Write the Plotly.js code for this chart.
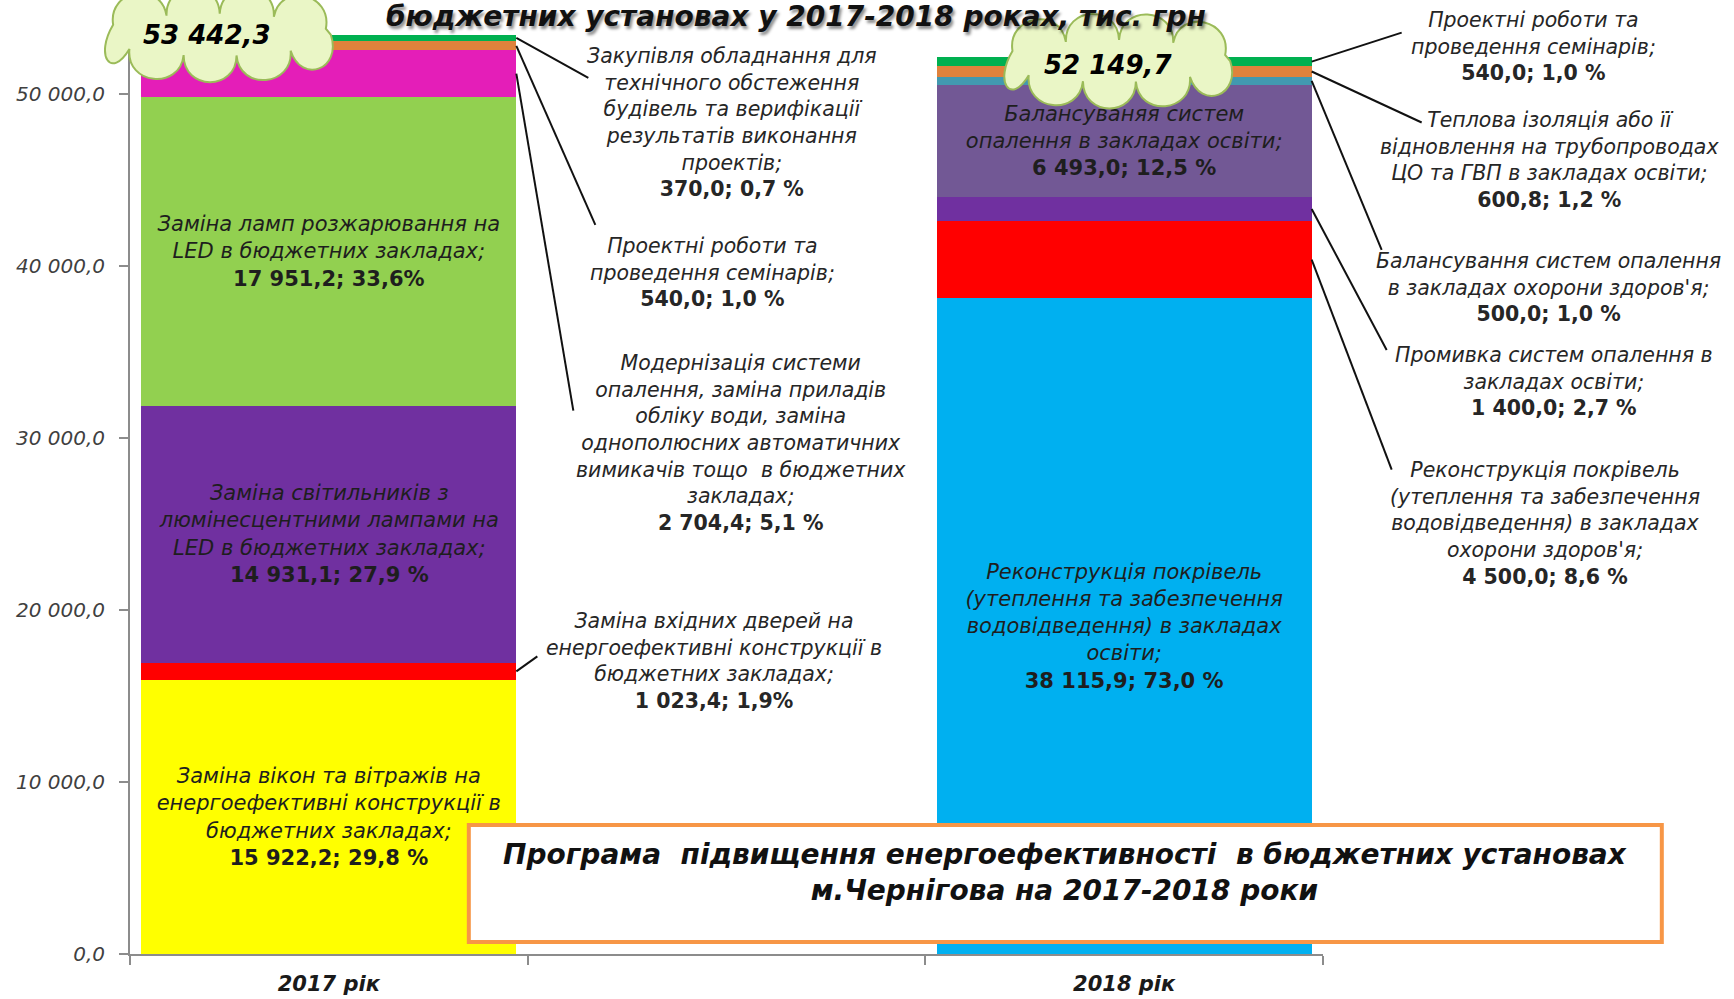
<!DOCTYPE html>
<html>
<head>
<meta charset="utf-8">
<script src="https://cdn.plot.ly/plotly-3.0.1.min.js"></script>
<style>
  html, body { margin: 0; padding: 0; background: #fff; }
  #chart { width: 1734px; height: 999px; }
</style>
</head>
<body>
<div id="chart"></div>
<script>
// Категорії осі X (середня - порожнє місце під підписи)
const categories = ['2017 рік', ' ', '2018 рік'];

// 2017 рік, знизу вгору
const names2017 = [
  'Заміна вікон та вітражів на<br>енергоефективні конструкції в<br>бюджетних закладах;',
  'Заміна вхідних дверей на<br>енергоефективні конструкції в<br>бюджетних закладах;',
  'Заміна світильників з<br>люмінесцентними лампами на<br>LED в бюджетних закладах;',
  'Заміна ламп розжарювання на<br>LED в бюджетних закладах;',
  'Модернізація системи<br>опалення, заміна приладів<br>обліку води, заміна<br>однополюсних автоматичних<br>вимикачів тощо  в бюджетних<br>закладах;',
  'Проектні роботи та<br>проведення семінарів;',
  'Закупівля обладнання для<br>технічного обстеження<br>будівель та верифікації<br>результатів виконання<br>проектів;'
];
const values2017 = [15922.2, 1023.4, 14931.1, 17951.2, 2704.4, 540.0, 370.0];
const valueText2017 = ['15 922,2', '1 023,4', '14 931,1', '17 951,2', '2 704,4', '540,0', '370,0'];
const shares2017 = ['29,8 %', '1,9%', '27,9 %', '33,6%', '5,1 %', '1,0 %', '0,7 %'];
const colors2017 = ['#FFFF00', '#FF0000', '#7030A0', '#92D050', '#E41EB8', '#E0823C', '#00B050'];

// 2018 рік, знизу вгору
const names2018 = [
  'Реконструкція покрівель<br>(утеплення та забезпечення<br>водовідведення) в закладах<br>освіти;',
  'Реконструкція покрівель<br>(утеплення та забезпечення<br>водовідведення) в закладах<br>охорони здоров\'я;',
  'Промивка систем опалення в<br>закладах освіти;',
  'Балансуваняя систем<br>опалення в закладах освіти;',
  'Балансування систем опалення<br>в закладах охорони здоров\'я;',
  'Теплова ізоляція або її<br>відновлення на трубопроводах<br>ЦО та ГВП в закладах освіти;',
  'Проектні роботи та<br>проведення семінарів;'
];
const values2018 = [38115.9, 4500.0, 1400.0, 6493.0, 500.0, 600.8, 540.0];
const valueText2018 = ['38 115,9', '4 500,0', '1 400,0', '6 493,0', '500,0', '600,8', '540,0'];
const shares2018 = ['73,0 %', '8,6 %', '2,7 %', '12,5 %', '1,0 %', '1,2 %', '1,0 %'];
const colors2018 = ['#00B0F0', '#FF0000', '#7030A0', '#725895', '#4299B0', '#E0823C', '#00B050'];

// Підсумки над стовпчиками
const totalText = ['53 442,3', '52 149,7'];

// Поділки осі Y
const yTicks = [0, 10000, 20000, 30000, 40000, 50000];
const yTickText = ['0,0', '10 000,0', '20 000,0', '30 000,0', '40 000,0', '50 000,0'];

const titleText = 'бюджетних установах у 2017-2018 роках, тис. грн';
const boxText = 'Програма  підвищення енергоефективності  в бюджетних установах<br>м.Чернігова на 2017-2018 роки';

const FONT = 'DejaVu Sans, Open Sans, sans-serif';
const BAR_GAP = 0.057;
const HALF = (1 - BAR_GAP) / 2;
const X_RANGE = [-0.5, 2.5];
const Y_MAX = 55000;

// перерахунок у частки області побудови (щоб виноски не обрізались)
const px = idx => (idx - X_RANGE[0]) / (X_RANGE[1] - X_RANGE[0]);
const py = v => v / Y_MAX;

const years = [
  { cat: 0, names: names2017, values: values2017, vt: valueText2017, shares: shares2017, colors: colors2017, inside: [0, 2, 3] },
  { cat: 2, names: names2018, values: values2018, vt: valueText2018, shares: shares2018, colors: colors2018, inside: [0, 3] }
];

// Винесені підписи: сегмент, лінія-виноска (px), положення тексту
const callouts = [
  { year: 0, seg: 6, dx: 72, dy: 40, lx: 1.014, ly: 48341 },
  { year: 0, seg: 5, dx: 79, dy: 179, lx: 0.964, ly: 39639 },
  { year: 0, seg: 4, dx: 57, dy: 337, lx: 1.037, ly: 29700 },
  { year: 0, seg: 1, dx: 21, dy: -15, lx: 0.969, ly: 17026 },
  { year: 1, seg: 6, dx: 90, dy: -29, lx: 3.029, ly: 52765 },
  { year: 1, seg: 5, dx: 110, dy: 51, lx: 3.069, ly: 46187 },
  { year: 1, seg: 4, dx: 70, dy: 169, lx: 3.066, ly: 38737 },
  { year: 1, seg: 2, dx: 75, dy: 141, lx: 3.081, ly: 33295 },
  { year: 1, seg: 1, dx: 80, dy: 210, lx: 3.059, ly: 25058 }
];

// Хмарка: зсув відносно верху стовпчика (px)
const clouds = [
  { dx: -114, dy: 0, tdx: -122, tdy: 0 },
  { dx: -10, dy: -4, tdx: -16, tdy: -8 }
];

function label(y, i) {
  return '<i>' + y.names[i] + '</i><br><b>' + y.vt[i] + '; ' + y.shares[i] + '</b>';
}

function cumulative(vals) {
  const out = [];
  let s = 0;
  vals.forEach(v => { out.push(s + v / 2); s += v; });
  return out;
}

// Контур хмарки з опуклостями
function cloudPath(cx, cy, rx, ry, bumps, h) {
  const N = 600;
  const ts = [0], len = [0];
  let prev = [rx, 0];
  for (let i = 1; i <= N; i++) {
    const t = 2 * Math.PI * i / N;
    const p = [rx * Math.cos(t), ry * Math.sin(t)];
    ts.push(t);
    len.push(len[i - 1] + Math.hypot(p[0] - prev[0], p[1] - prev[1]));
    prev = p;
  }
  const total = len[N];
  const tAt = s => {
    let i = 0;
    while (i < N && len[i] < s) i++;
    return ts[i];
  };
  const pt = t => [cx + rx * Math.cos(t), cy + ry * Math.sin(t)];
  const nrm = t => {
    const nx = ry * Math.cos(t), ny = rx * Math.sin(t);
    const d = Math.hypot(nx, ny);
    return [nx / d, ny / d];
  };
  let path = '';
  for (let k = 0; k < bumps; k++) {
    const t0 = tAt(total * k / bumps + 8);
    const t1 = tAt(total * (k + 1) / bumps + 8) || 2 * Math.PI;
    const tm = tAt(total * (k + 0.5) / bumps + 8);
    const p0 = pt(t0), p1 = pt(t1), n = nrm(tm);
    if (k === 0) path += 'M' + p0[0].toFixed(1) + ',' + p0[1].toFixed(1);
    path += ' C' + (p0[0] + n[0] * h).toFixed(1) + ',' + (p0[1] + n[1] * h).toFixed(1) + ' ' +
      (p1[0] + n[0] * h).toFixed(1) + ',' + (p1[1] + n[1] * h).toFixed(1) + ' ' +
      p1[0].toFixed(1) + ',' + p1[1].toFixed(1);
  }
  return path + ' Z';
}

const traces = [];
years.forEach(y => {
  y.values.forEach((v, i) => {
    const inside = y.inside.indexOf(i) >= 0;
    traces.push({
      type: 'bar',
      x: [categories[y.cat]],
      y: [v],
      marker: { color: y.colors[i], line: { width: 0 } },
      text: [inside ? label(y, i) : ''],
      textposition: inside ? 'inside' : 'none',
      insidetextanchor: 'middle',
      textangle: 0,
      constraintext: 'none',
      insidetextfont: { family: FONT, size: 21, color: '#1E1E1E' },
      hoverinfo: 'skip'
    });
  });
});

const annotations = [];
const shapes = [];

// Виноски та підписи
callouts.forEach(c => {
  const y = years[c.year];
  const mids = cumulative(y.values);
  shapes.push({
    type: 'line', xref: 'paper', yref: 'paper',
    xsizemode: 'pixel', ysizemode: 'pixel',
    xanchor: px(y.cat + HALF), yanchor: py(mids[c.seg]),
    x0: 0, y0: 0, x1: c.dx, y1: -c.dy,
    line: { color: '#111111', width: 2 },
    layer: 'above'
  });
  annotations.push({
    xref: 'paper', yref: 'paper', x: px(c.lx), y: py(c.ly),
    text: label(y, c.seg), showarrow: false,
    xanchor: 'center', yanchor: 'middle', align: 'center',
    font: { family: FONT, size: 20.5, color: '#262626' }
  });
});

// Хмарки з підсумками
years.forEach((y, k) => {
  const total = y.values.reduce((a, b) => a + b, 0);
  const c = clouds[k];
  shapes.push({
    type: 'path', xref: 'paper', yref: 'paper',
    xsizemode: 'pixel', ysizemode: 'pixel',
    xanchor: px(y.cat), yanchor: py(total),
    path: cloudPath(c.dx, c.dy, 116, 21, 9, 36),
    fillcolor: '#EAF6C6',
    line: { color: '#9BBB59', width: 2 },
    layer: 'above'
  });
  annotations.push({
    xref: 'paper', yref: 'paper', x: px(y.cat), y: py(total),
    xshift: c.tdx, yshift: c.tdy,
    text: '<b><i>' + totalText[k] + '</i></b>', showarrow: false,
    xanchor: 'center', yanchor: 'middle',
    font: { family: FONT, size: 26, color: '#000000' }
  });
});

// Рамка з назвою програми
shapes.push({
  type: 'rect', xref: 'paper', yref: 'paper',
  x0: 0.284, x1: 1.284, y0: 0.0127, y1: 0.1364,
  fillcolor: '#FFFFFF',
  line: { color: '#F79646', width: 4 },
  layer: 'above'
});
annotations.push({
  xref: 'paper', yref: 'paper', x: 0.784, y: 0.0857,
  text: '<b><i>' + boxText + '</i></b>', showarrow: false,
  xanchor: 'center', yanchor: 'middle', align: 'center',
  font: { family: FONT, size: 28, color: '#111111' }
});

// Заголовок (верхній рядок за межами кадру)
annotations.push({
  xref: 'paper', yref: 'paper', x: 0.558, y: 1, yshift: 10,
  text: '<b><i>' + titleText + '</i></b>', showarrow: false,
  xanchor: 'center', yanchor: 'top',
  font: { family: FONT, size: 28, color: '#111111', shadow: '2px 3px 3px rgba(0,0,0,0.45)' }
});

const layout = {
  width: 1734,
  height: 999,
  margin: { l: 130, r: 411, t: 8, b: 45 },
  paper_bgcolor: '#FFFFFF',
  plot_bgcolor: '#FFFFFF',
  barmode: 'stack',
  bargap: BAR_GAP,
  showlegend: false,
  xaxis: {
    type: 'category',
    categoryorder: 'array',
    categoryarray: categories,
    range: X_RANGE,
    tickson: 'boundaries',
    ticks: 'outside',
    ticklen: 9,
    tickcolor: '#8C8C8C',
    tickwidth: 2,
    showline: true,
    linecolor: '#8C8C8C',
    linewidth: 2,
    showgrid: false,
    ticklabelstandoff: 10,
    tickfont: { family: FONT, size: 21, color: '#1A1A1A', weight: 'bold', style: 'italic' },
    fixedrange: true
  },
  yaxis: {
    range: [0, Y_MAX],
    tickvals: yTicks,
    ticktext: yTickText,
    ticks: 'outside',
    ticklen: 9,
    tickcolor: '#8C8C8C',
    tickwidth: 2,
    showline: true,
    linecolor: '#8C8C8C',
    linewidth: 2,
    showgrid: false,
    zeroline: false,
    ticklabelstandoff: 10,
    tickfont: { family: FONT, size: 20, color: '#404040', style: 'italic' },
    fixedrange: true
  },
  annotations: annotations,
  shapes: shapes
};

Plotly.newPlot('chart', traces, layout, { displayModeBar: false, staticPlot: true });
</script>
</body>
</html>
